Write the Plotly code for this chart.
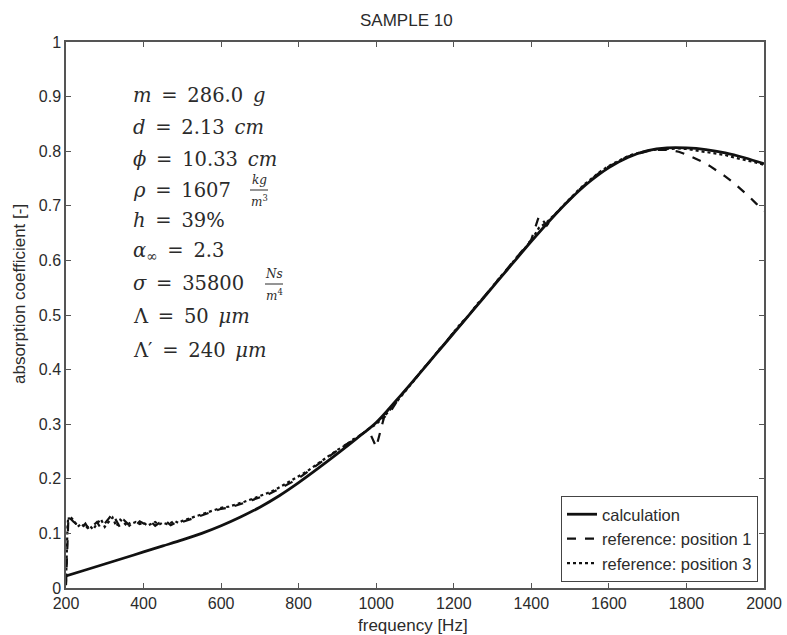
import plotly.graph_objects as go

# ---------------- data ----------------
calc_freq = [200, 250, 300, 350, 400, 450, 500, 550, 600, 650, 700, 750, 800, 850, 900, 950,
             1000, 1050, 1100, 1150, 1200, 1250, 1300, 1350, 1400, 1450, 1500, 1550, 1600,
             1650, 1700, 1750, 1800, 1850, 1900, 1950, 2000]
calc_alpha = [0.022, 0.033, 0.044, 0.055, 0.066, 0.077, 0.088, 0.100, 0.114, 0.130, 0.148, 0.169,
              0.193, 0.219, 0.246, 0.274, 0.303, 0.342, 0.383, 0.425, 0.467, 0.509, 0.551, 0.593,
              0.635, 0.675, 0.712, 0.744, 0.770, 0.789, 0.801, 0.806, 0.806, 0.803, 0.797, 0.788,
              0.777]

ref_freq = [200, 202, 204, 206, 208] + list(range(210, 501, 10)) + list(range(520, 2001, 20))

ref_pos1 = [0.005, 0.060, 0.100, 0.125, 0.132,
            0.128, 0.121, 0.115, 0.110, 0.118, 0.106, 0.114, 0.121, 0.109, 0.117,
            0.127, 0.136, 0.122, 0.110, 0.124, 0.117, 0.121, 0.115, 0.122, 0.118,
            0.116, 0.121, 0.114, 0.119, 0.116, 0.121, 0.115, 0.118, 0.122, 0.121,
            0.126, 0.131, 0.136, 0.140, 0.145, 0.147, 0.151, 0.156, 0.161, 0.166,
            0.171, 0.178, 0.185, 0.193, 0.201, 0.211, 0.221, 0.231, 0.241, 0.251,
            0.262, 0.270, 0.281, 0.290, 0.258, 0.312, 0.327, 0.349, 0.366, 0.384,
            0.400, 0.418, 0.434, 0.452, 0.468, 0.484, 0.502, 0.518, 0.535, 0.552,
            0.568, 0.586, 0.602, 0.620, 0.638, 0.682, 0.664, 0.683, 0.698, 0.713,
            0.727, 0.740, 0.752, 0.763, 0.772, 0.780, 0.787, 0.793, 0.797, 0.800,
            0.802, 0.803, 0.802, 0.799, 0.794, 0.788, 0.781, 0.773, 0.764, 0.754,
            0.743, 0.731, 0.718, 0.704, 0.690]

ref_pos3 = [0.010, 0.080, 0.115, 0.130, 0.126,
            0.131, 0.124, 0.112, 0.118, 0.109, 0.115, 0.107, 0.118, 0.126, 0.112,
            0.121, 0.129, 0.113, 0.125, 0.119, 0.112, 0.118, 0.121, 0.117, 0.120,
            0.114, 0.118, 0.121, 0.116, 0.120, 0.117, 0.119, 0.123, 0.119, 0.123,
            0.128, 0.133, 0.138, 0.142, 0.147, 0.149, 0.153, 0.158, 0.163, 0.168,
            0.174, 0.180, 0.188, 0.196, 0.204, 0.213, 0.223, 0.233, 0.243, 0.253,
            0.261, 0.272, 0.280, 0.291, 0.300, 0.314, 0.330, 0.347, 0.365, 0.382,
            0.401, 0.416, 0.435, 0.450, 0.469, 0.486, 0.500, 0.520, 0.534, 0.553,
            0.570, 0.585, 0.604, 0.619, 0.637, 0.660, 0.670, 0.684, 0.699, 0.714,
            0.728, 0.741, 0.753, 0.764, 0.773, 0.781, 0.788, 0.794, 0.798, 0.801,
            0.803, 0.804, 0.805, 0.805, 0.804, 0.802, 0.800, 0.798, 0.795, 0.793,
            0.789, 0.786, 0.782, 0.779, 0.775]

series_names = ["calculation", "reference: position 1", "reference: position 3"]
x_ticks = [200, 400, 600, 800, 1000, 1200, 1400, 1600, 1800, 2000]
y_ticks = [0, 0.1, 0.2, 0.3, 0.4, 0.5, 0.6, 0.7, 0.8, 0.9, 1]
y_tick_labels = ["0", "0.1", "0.2", "0.3", "0.4", "0.5", "0.6", "0.7", "0.8", "0.9", "1"]

title_text = "SAMPLE 10"
x_title = "frequency [Hz]"
y_title = "absorption coefficient [-]"

# ---------------- figure ----------------
W, H = 787, 635
L, R, T, B = 66, 764, 42, 588  # plot area in pixels


def px(xp):
    return (xp - L) / (R - L)


def py(yp):
    return (B - yp) / (B - T)


INK = "#111111"
TXT = "#2b2b2b"
SANS = "Liberation Sans, Arial, sans-serif"
SERIF = "DejaVu Serif, serif"

fig = go.Figure()
fig.add_trace(go.Scatter(x=calc_freq, y=calc_alpha, mode="lines", name=series_names[0],
                         line=dict(color=INK, width=2.8, shape="spline")))
fig.add_trace(go.Scatter(x=ref_freq, y=ref_pos1, mode="lines", name=series_names[1],
                         line=dict(color=INK, width=2.2, dash="dash")))
fig.add_trace(go.Scatter(x=ref_freq, y=ref_pos3, mode="lines", name=series_names[2],
                         line=dict(color=INK, width=2.2, dash="dot")))

axis_common = dict(showline=True, linecolor="#555555", linewidth=1.5, mirror="allticks",
                   ticks="inside", ticklen=5, tickcolor="#555555", tickwidth=1,
                   showgrid=False, zeroline=False, automargin=False,
                   tickfont=dict(family=SANS, size=16, color=TXT))

fig.update_xaxes(range=[200, 2000], tickvals=x_ticks, **axis_common)
fig.update_yaxes(range=[0, 1], tickvals=y_ticks, ticktext=y_tick_labels, **axis_common)

sp = "\u2002"
math_lines = [
    (95, f"<i>m</i>{sp}={sp}286.0{sp}<i>g</i>"),
    (127, f"<i>d</i>{sp}={sp}2.13{sp}<i>cm</i>"),
    (159, f"<i>ϕ</i>{sp}={sp}10.33{sp}<i>cm</i>"),
    (190, f"<i>ρ</i>{sp}={sp}1607"),
    (221, f"<i>h</i>{sp}={sp}39%"),
    (252, f"<i>α</i><sub>∞</sub>{sp}={sp}2.3"),
    (283, f"<i>σ</i>{sp}={sp}35800"),
    (316, f"Λ{sp}={sp}50{sp}<i>μm</i>"),
    (350, f"Λ′{sp}={sp}240{sp}<i>μm</i>"),
]

annotations = []
for yc, txt in math_lines:
    annotations.append(dict(x=px(131), y=py(yc), xref="paper", yref="paper", text=txt,
                            showarrow=False, xanchor="left", yanchor="middle",
                            font=dict(family=SERIF, size=19.5, color=TXT)))

fractions = [(259, 190, "<i>kg</i>", "<i>m</i><sup>3</sup>"),
             (274, 284, "<i>Ns</i>", "<i>m</i><sup>4</sup>")]
shapes = []
for xc, yc, num, den in fractions:
    annotations.append(dict(x=px(xc), y=py(yc - 1), xref="paper", yref="paper", text=num,
                            showarrow=False, xanchor="center", yanchor="bottom",
                            font=dict(family=SERIF, size=12, color=TXT)))
    annotations.append(dict(x=px(xc), y=py(yc + 1), xref="paper", yref="paper", text=den,
                            showarrow=False, xanchor="center", yanchor="top",
                            font=dict(family=SERIF, size=12, color=TXT)))
    shapes.append(dict(type="line", xref="paper", yref="paper",
                       x0=px(xc - 9), x1=px(xc + 9), y0=py(yc), y1=py(yc),
                       line=dict(color=TXT, width=1)))

annotations.append(dict(x=px(406), y=py(21), xref="paper", yref="paper", text=title_text,
                        showarrow=False, xanchor="center", yanchor="middle",
                        font=dict(family=SANS, size=17, color=TXT)))
annotations.append(dict(x=px(413), y=py(625), xref="paper", yref="paper", text=x_title,
                        showarrow=False, xanchor="center", yanchor="middle",
                        font=dict(family=SANS, size=17, color=TXT)))
annotations.append(dict(x=px(19), y=py(294), xref="paper", yref="paper", text=y_title,
                        showarrow=False, xanchor="center", yanchor="middle", textangle=-90,
                        font=dict(family=SANS, size=17, color=TXT)))

fig.update_layout(
    width=W, height=H,
    margin=dict(l=L, r=W - R, t=T, b=H - B, pad=0, autoexpand=False),
    paper_bgcolor="white", plot_bgcolor="white",
    showlegend=True,
    legend=dict(x=px(758), y=py(582), xanchor="right", yanchor="bottom",
                bgcolor="white", bordercolor="#444444", borderwidth=1,
                font=dict(family=SANS, size=16.5, color=TXT), tracegroupgap=0),
    annotations=annotations,
    shapes=shapes,
)

fig.write_html("out.html", config={"displayModeBar": False},
               post_script="document.body.style.margin='0px';document.body.style.overflow='hidden';")
